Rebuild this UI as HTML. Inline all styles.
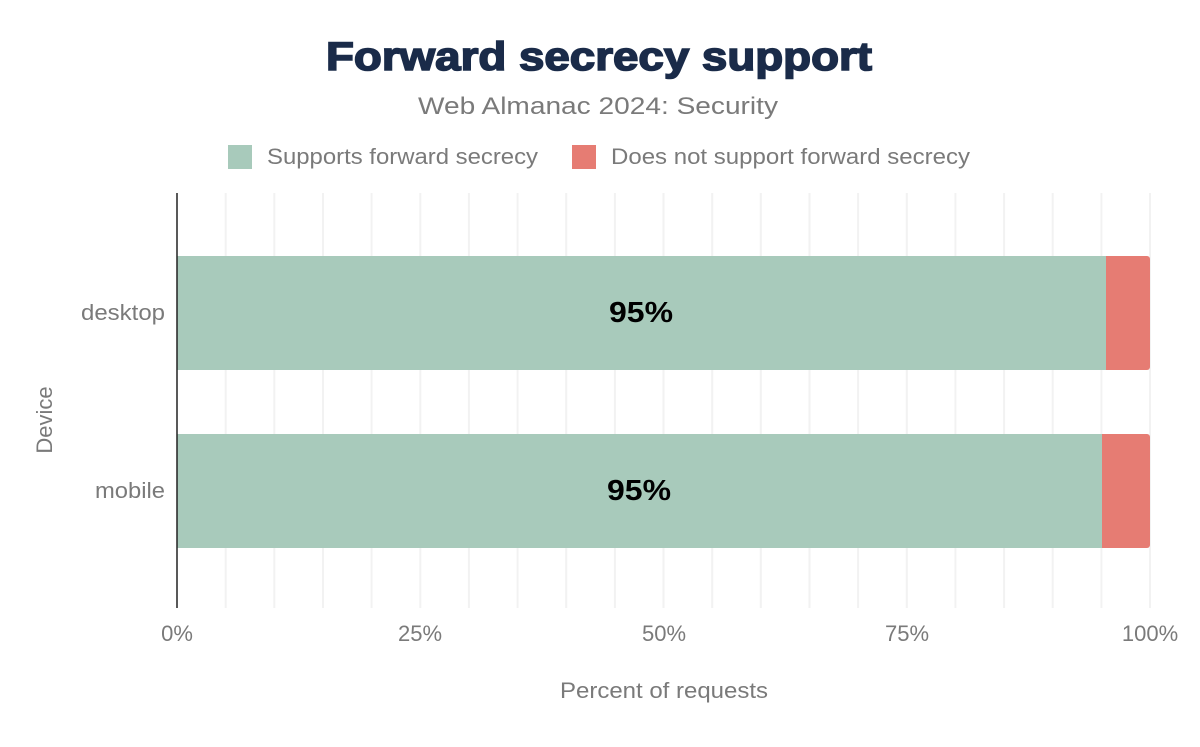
<!DOCTYPE html>
<html><head><style>
body{margin:0;background:#fff;font-family:"Liberation Sans",sans-serif;}
</style></head><body>
<svg width="1200" height="742" xmlns="http://www.w3.org/2000/svg" font-family="Liberation Sans, sans-serif">
<rect width="1200" height="742" fill="#fff"/>
<text x="326" y="70" font-size="40" font-weight="900" fill="#1a2b49" stroke="#1a2b49" stroke-width="1.6" textLength="546" lengthAdjust="spacingAndGlyphs">Forward secrecy support</text>
<text x="418" y="114" font-size="24" fill="#7a7a7a" textLength="360" lengthAdjust="spacingAndGlyphs">Web Almanac 2024: Security</text>
<rect x="228" y="145" width="24" height="24" fill="#a8cabb"/>
<text x="267" y="164" font-size="22" fill="#7a7a7a" textLength="271" lengthAdjust="spacingAndGlyphs">Supports forward secrecy</text>
<rect x="572" y="145" width="24" height="24" fill="#e67c73"/>
<text x="611" y="164" font-size="22" fill="#7a7a7a" textLength="359" lengthAdjust="spacingAndGlyphs">Does not support forward secrecy</text>
<g stroke="#f2f2f2" stroke-width="2">
<line x1="225.7" y1="193" x2="225.7" y2="608"/><line x1="274.3" y1="193" x2="274.3" y2="608"/>
<line x1="323" y1="193" x2="323" y2="608"/><line x1="371.6" y1="193" x2="371.6" y2="608"/>
<line x1="420.3" y1="193" x2="420.3" y2="608"/><line x1="468.9" y1="193" x2="468.9" y2="608"/>
<line x1="517.6" y1="193" x2="517.6" y2="608"/><line x1="566.2" y1="193" x2="566.2" y2="608"/>
<line x1="614.9" y1="193" x2="614.9" y2="608"/><line x1="663.5" y1="193" x2="663.5" y2="608"/>
<line x1="712.2" y1="193" x2="712.2" y2="608"/><line x1="760.8" y1="193" x2="760.8" y2="608"/>
<line x1="809.5" y1="193" x2="809.5" y2="608"/><line x1="858.1" y1="193" x2="858.1" y2="608"/>
<line x1="906.8" y1="193" x2="906.8" y2="608"/><line x1="955.4" y1="193" x2="955.4" y2="608"/>
<line x1="1004.1" y1="193" x2="1004.1" y2="608"/><line x1="1052.7" y1="193" x2="1052.7" y2="608"/>
<line x1="1101.4" y1="193" x2="1101.4" y2="608"/><line x1="1150" y1="193" x2="1150" y2="608"/>
</g>
<rect x="1100" y="256" width="50" height="114" rx="3" fill="#e67c73"/>
<rect x="177" y="256" width="929" height="114" fill="#a8cabb"/>
<rect x="1096" y="434" width="54" height="114" rx="3" fill="#e67c73"/>
<rect x="177" y="434" width="925" height="114" fill="#a8cabb"/>
<line x1="177" y1="193" x2="177" y2="608" stroke="#222" stroke-width="1.5"/>
<text x="609" y="322" font-size="29" font-weight="bold" fill="#000" textLength="64" lengthAdjust="spacingAndGlyphs">95%</text>
<text x="607" y="500" font-size="29" font-weight="bold" fill="#000" textLength="64" lengthAdjust="spacingAndGlyphs">95%</text>
<text x="81" y="320" font-size="22" fill="#7a7a7a" textLength="84" lengthAdjust="spacingAndGlyphs">desktop</text>
<text x="95" y="498" font-size="22" fill="#7a7a7a" textLength="70" lengthAdjust="spacingAndGlyphs">mobile</text>
<text transform="translate(52,420) rotate(-90)" text-anchor="middle" font-size="22" fill="#7a7a7a">Device</text>
<g font-size="22" fill="#7a7a7a" text-anchor="middle">
<text x="177" y="641">0%</text><text x="420" y="641">25%</text><text x="664" y="641">50%</text><text x="907" y="641">75%</text><text x="1150" y="641">100%</text>
</g>
<text x="560" y="698" font-size="22" fill="#7a7a7a" textLength="208" lengthAdjust="spacingAndGlyphs">Percent of requests</text>
</svg>
</body></html>
